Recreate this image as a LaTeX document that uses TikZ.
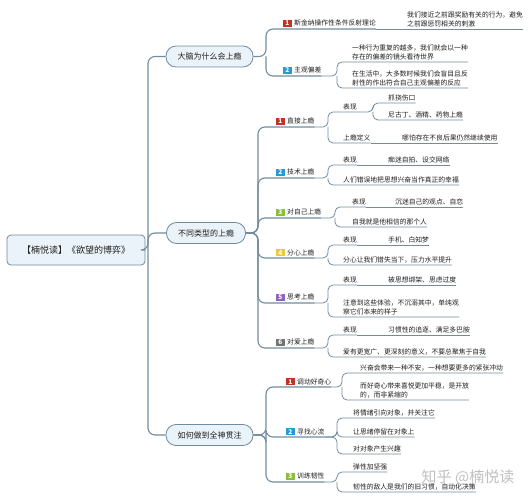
\documentclass[tikz,border=0pt]{standalone}
\usepackage{fontspec}
\setmainfont{Noto Sans CJK SC}
\definecolor{linec}{RGB}{112,140,158}
\definecolor{topicfill}{RGB}{234,243,249}
\definecolor{txt}{RGB}{30,30,30}
\definecolor{tagred}{RGB}{198,48,38}
\definecolor{tagblue}{RGB}{45,150,212}
\definecolor{taggreen}{RGB}{140,190,60}
\definecolor{tagyellow}{RGB}{236,200,60}
\definecolor{tagpurple}{RGB}{140,100,200}
\definecolor{taggray}{RGB}{115,115,115}
\newcommand{\numtag}[2]{{\setlength{\fboxsep}{1.2pt}\colorbox{#1}{\textcolor{white}{\bfseries\fontsize{6.5}{6.5}\selectfont\,#2\,}}}\hspace{2.5pt}}
\begin{document}
\begin{tikzpicture}[x=1pt,y=-1pt,
	link/.style={draw=linec, line width=0.8pt, rounded corners=5pt},
	trunk/.style={draw=linec, line width=1.1pt, rounded corners=7pt},
	topic/.style={draw=linec, fill=topicfill, line width=0.8pt, rounded corners=10pt,
		minimum height=21pt, inner xsep=11.5pt, text=txt, font=\fontsize{8}{8}\selectfont},
	item/.style={anchor=south west, inner xsep=0pt, inner ysep=1.6pt, text=txt,
		align=left, font=\fontsize{6.8}{9.3}\selectfont}]
	\useasboundingbox (0,0) rectangle (530,500);
	% root and main topics
	\node[draw=linec, fill=topicfill, line width=0.8pt, rounded corners=4pt, minimum width=138pt,
		minimum height=30pt, text=txt, font=\fontsize{9}{9}\selectfont] (root) at (76,250) {【楠悦读】《欲望的博弈》};
	\node[topic] (t1) at (209.5,56.5) {大脑为什么会上瘾};
	\node[topic] (t2) at (206,233) {不同类型的上瘾};
	\node[topic] (t3) at (209.5,435) {如何做到全神贯注};
	\coordinate (b0) at (148,250);
	\draw[trunk] (root.east) -- (b0) |- (t1.west);
	\draw[trunk] (b0) |- (t2.west);
	\draw[trunk] (b0) |- (t3.west);

	% 大脑为什么会上瘾
	\node[item] (s11) at (283,29) {\numtag{tagred}{1}斯金纳操作性条件反射理论};
	\node[item] (l111) at (407,29) {我们接近之前跟奖励有关的行为，避免\\之前跟惩罚相关的刺激};
	\node[item] (s12) at (283,76) {\numtag{tagblue}{2}主观偏差};
	\node[item] (l121) at (352,62) {一种行为重复的越多，我们就会以一种\\存在的偏差的镜头看待世界};
	\node[item] (l122) at (352,88) {在生活中，大多数时候我们会盲目且反\\射性的作出符合自己主观偏差的反应};
	\coordinate (b1) at (266,56.5);
	\coordinate (b12) at (337,76);
	\draw[trunk] (t1.east) -- (b1) |- (s11.south east);
	\draw[trunk] (b1) |- (s12.south east);
	\draw[link] (s11.south east) -- (l111.south east);
	\draw[link] (s12.south east) -- (b12) |- (l121.south east);
	\draw[link] (b12) |- (l122.south east);

	% 不同类型的上瘾
	\node[item] (s21) at (276,127) {\numtag{tagred}{1}直接上瘾};
	\node[item] (l211) at (343,112) {表现};
	\node[item] (l2111) at (388,103) {抓挠伤口};
	\node[item] (l2112) at (388,120) {尼古丁、酒精、药物上瘾};
	\node[item] (l212) at (343,143) {上瘾定义};
	\node[item] (l2121) at (402,143) {哪怕存在不良后果仍然继续使用};
	\node[item] (s22) at (276,178) {\numtag{tagblue}{2}技术上瘾};
	\node[item] (l221) at (343,165) {表现};
	\node[item] (l2211) at (388,165) {痴迷自拍、设交网络};
	\node[item] (l222) at (343,185) {人们错误地把思想兴奋当作真正的幸福};
	\node[item] (s23) at (276,218) {\numtag{taggreen}{3}对自己上瘾};
	\node[item] (l231) at (352,207) {表现};
	\node[item] (l2311) at (395,207) {沉迷自己的观点、自恋};
	\node[item] (l232) at (352,227) {自我就是他相信的那个人};
	\node[item] (s24) at (276,258) {\numtag{tagyellow}{4}分心上瘾};
	\node[item] (l241) at (343,245) {表现};
	\node[item] (l2411) at (388,245) {手机、白知梦};
	\node[item] (l242) at (343,265) {分心让我们错失当下，压力水平提升};
	\node[item] (s25) at (276,303) {\numtag{tagpurple}{5}思考上瘾};
	\node[item] (l251) at (343,285) {表现};
	\node[item] (l2511) at (388,285) {被思想绑架、思虑过度};
	\node[item] (l252) at (343,317) {注意到这些体验，不沉溺其中，单纯观\\察它们本来的样子};
	\node[item] (s26) at (276,348) {\numtag{taggray}{6}对爱上瘾};
	\node[item] (l261) at (343,335) {表现};
	\node[item] (l2611) at (388,335) {习惯性的追逐、满足多巴胺};
	\node[item] (l262) at (343,357) {爱有更宽广、更深刻的意义，不要总聚焦于自我};
	\coordinate (b2) at (258,233);
	\foreach \s in {s21,s22,s23,s24,s25,s26}
		\draw[trunk] (t2.east) -- (b2) |- (\s.south east);
	\coordinate (b21) at (328,127);
	\coordinate (b211) at (373,112);
	\draw[link] (s21.south east) -- (b21) |- (l211.south east);
	\draw[link] (b21) |- (l212.south east);
	\draw[link] (l211.south east) -- (b211) |- (l2111.south east);
	\draw[link] (b211) |- (l2112.south east);
	\draw[link] (l212.south east) -- (l2121.south east);
	\coordinate (b22) at (328,178);
	\draw[link] (s22.south east) -- (b22) |- (l221.south east);
	\draw[link] (b22) |- (l222.south east);
	\draw[link] (l221.south east) -- (l2211.south east);
	\coordinate (b23) at (335,218);
	\draw[link] (s23.south east) -- (b23) |- (l231.south east);
	\draw[link] (b23) |- (l232.south east);
	\draw[link] (l231.south east) -- (l2311.south east);
	\coordinate (b24) at (328,258);
	\draw[link] (s24.south east) -- (b24) |- (l241.south east);
	\draw[link] (b24) |- (l242.south east);
	\draw[link] (l241.south east) -- (l2411.south east);
	\coordinate (b25) at (328,303);
	\draw[link] (s25.south east) -- (b25) |- (l251.south east);
	\draw[link] (b25) |- (l252.south east);
	\draw[link] (l251.south east) -- (l2511.south east);
	\coordinate (b26) at (328,348);
	\draw[link] (s26.south east) -- (b26) |- (l261.south east);
	\draw[link] (b26) |- (l262.south east);
	\draw[link] (l261.south east) -- (l2611.south east);

	% 如何做到全神贯注
	\node[item] (s31) at (286,387) {\numtag{tagred}{1}调动好奇心};
	\node[item] (l311) at (360,373) {兴奋会带来一种不安，一种想要更多的紧张冲动};
	\node[item] (l312) at (360,400) {而好奇心带来喜悦更加平稳，是开放\\的，而非紧缩的};
	\node[item] (s32) at (286,437) {\numtag{tagblue}{2}寻找心流};
	\node[item] (l321) at (353,418) {将情绪引向对象，并关注它};
	\node[item] (l322) at (353,437) {让思绪停留在对象上};
	\node[item] (l323) at (353,454) {对对象产生兴趣};
	\node[item] (s33) at (286,482) {\numtag{taggreen}{3}训练韧性};
	\node[item] (l331) at (353,472) {弹性加坚强};
	\node[item] (l332) at (353,492) {韧性的敌人是我们的旧习惯，自动化决策};
	\coordinate (b3) at (266,435);
	\foreach \s in {s31,s32,s33}
		\draw[trunk] (t3.east) -- (b3) |- (\s.south east);
	\coordinate (b31) at (342,387);
	\draw[link] (s31.south east) -- (b31) |- (l311.south east);
	\draw[link] (b31) |- (l312.south east);
	\coordinate (b32) at (337,437);
	\foreach \l in {l321,l322,l323}
		\draw[link] (s32.south east) -- (b32) |- (\l.south east);
	\coordinate (b33) at (337,482);
	\draw[link] (s33.south east) -- (b33) |- (l331.south east);
	\draw[link] (b33) |- (l332.south east);

	\node[text=black!25, font=\fontsize{15}{15}\selectfont] (mark) at (468,477) {知乎 @楠悦读};
\end{tikzpicture}
\end{document}
